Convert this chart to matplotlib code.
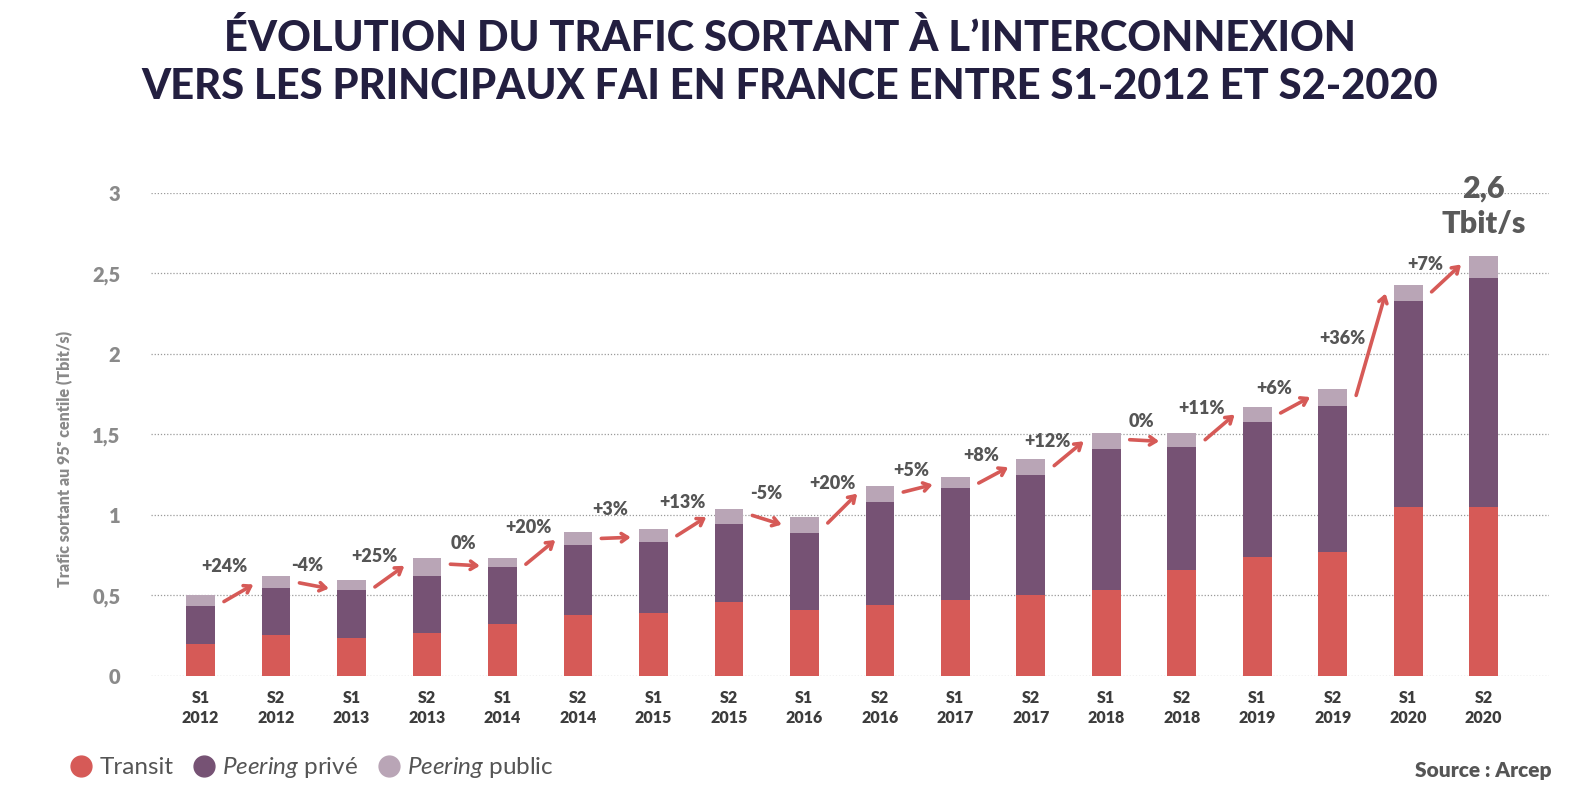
import numpy as np
from matplotlib import pyplot as plt
from matplotlib.lines import Line2D

plt.rcParams['font.family'] = ['Lato', 'DejaVu Sans']
plt.rcParams['mathtext.fontset'] = 'custom'
plt.rcParams['mathtext.rm'] = 'Lato'
plt.rcParams['mathtext.it'] = 'Lato:italic'

# Data (Tbit/s)
periods = ['S1\n2012', 'S2\n2012', 'S1\n2013', 'S2\n2013', 'S1\n2014', 'S2\n2014',
           'S1\n2015', 'S2\n2015', 'S1\n2016', 'S2\n2016', 'S1\n2017', 'S2\n2017',
           'S1\n2018', 'S2\n2018', 'S1\n2019', 'S2\n2019', 'S1\n2020', 'S2\n2020']
transit = [0.196, 0.256, 0.233, 0.266, 0.324, 0.376, 0.394, 0.459, 0.411,
           0.439, 0.470, 0.501, 0.534, 0.660, 0.741, 0.772, 1.052, 1.052]
peering_prive = [0.237, 0.291, 0.300, 0.352, 0.350, 0.439, 0.436, 0.485, 0.479,
                 0.642, 0.694, 0.747, 0.876, 0.762, 0.837, 0.903, 1.275, 1.417]
peering_public = [0.069, 0.071, 0.060, 0.116, 0.060, 0.079, 0.081, 0.093, 0.100,
                  0.101, 0.074, 0.098, 0.097, 0.085, 0.095, 0.107, 0.098, 0.136]
growth = ['+24%', '-4%', '+25%', '0%', '+20%', '+3%', '+13%', '-5%', '+20%',
          '+5%', '+8%', '+12%', '0%', '+11%', '+6%', '+36%', '+7%']
total_label = ['2,6', 'Tbit/s']

# label placement for each growth figure (offset from bar i / next bar top)
lbl_dx = [0.32, 0.41, 0.31, 0.48, 0.34, 0.43, 0.39, 0.49, 0.37,
          0.42, 0.34, 0.22, 0.46, 0.26, 0.22, 0.13, 0.23]
lbl_dy = [0.06, 0.09, 0.01, 0.09, 0.03, 0.12, 0.04, 0.14, 0.01,
          0.04, 0.02, -0.05, 0.07, -0.01, 0.0, -0.33, -0.05]

red = '#d65a57'
purple = '#765274'
mauve = '#b9a5b6'

transit = np.array(transit)
peering_prive = np.array(peering_prive)
peering_public = np.array(peering_public)
total = transit + peering_prive + peering_public
x = np.arange(len(periods))

fig = plt.figure(figsize=(15.8, 8.08), dpi=100)
ax = fig.add_axes([0.0956, 0.1634, 0.885, 0.598])

w = 0.38
ax.bar(x, transit, w, color=red, zorder=3)
ax.bar(x, peering_prive, w, bottom=transit, color=purple, zorder=3)
ax.bar(x, peering_public, w, bottom=transit + peering_prive, color=mauve, zorder=3)

ax.set_xlim(-0.656, 17.87)
ax.set_ylim(0, 3)
ax.set_yticks([0, 0.5, 1, 1.5, 2, 2.5, 3])
ax.set_yticklabels(['0', '0,5', '1', '1,5', '2', '2,5', '3'])
ax.set_xticks(x)
ax.set_xticklabels(periods)
ax.tick_params(axis='y', length=0, pad=22, labelsize=14.5, labelcolor='#8a8a8a')
ax.tick_params(axis='x', length=0, pad=10, labelsize=11.5, labelcolor='#3c3c3c')
for lab in ax.get_yticklabels() + ax.get_xticklabels():
    lab.set_fontweight('heavy')
for lab in ax.get_xticklabels():
    lab.set_linespacing(1.35)
for s in ax.spines.values():
    s.set_visible(False)
ax.grid(axis='y', linestyle=(0, (1, 1.5)), color='#9a9a9a', linewidth=0.9, zorder=0)

ax.set_ylabel('Trafic sortant au 95ᵉ centile (Tbit/s)', fontsize=11.5, fontweight='heavy',
              color='#8a8a8a')
ax.yaxis.set_label_coords(-0.056, 0.45)

# growth arrows and labels
for i in range(len(growth)):
    ax.annotate('', xy=(i + 0.70, total[i + 1] - 0.05), xytext=(i + 0.31, total[i] - 0.04),
                arrowprops=dict(arrowstyle='->,head_length=0.45,head_width=0.3',
                                color=red, lw=2.6, shrinkA=0, shrinkB=0), zorder=4)
    ax.text(i + lbl_dx[i], total[i + 1] + lbl_dy[i], growth[i], ha='center', va='center',
            fontsize=13, fontweight='heavy', color='#555555')

ax.text(x[-1], total[-1] + 0.42, total_label[0], ha='center', va='center',
        fontsize=22, fontweight='heavy', color='#5a5a5a')
ax.text(x[-1], total[-1] + 0.20, total_label[1], ha='center', va='center',
        fontsize=22, fontweight='heavy', color='#5a5a5a')

fig.text(0.5, 0.977, 'ÉVOLUTION DU TRAFIC SORTANT À L’INTERCONNEXION\n'
         'VERS LES PRINCIPAUX FAI EN FRANCE ENTRE S1-2012 ET S2-2020',
         ha='center', va='top', fontsize=30, fontweight='black', color='#231f40',
         linespacing=1.33)

handles = [Line2D([], [], marker='o', linestyle='none', markersize=15, color=c)
           for c in (red, purple, mauve)]
labels = ['Transit', r'$\mathit{Peering}$ privé', r'$\mathit{Peering}$ public']
fig.legend(handles, labels, loc='center left', bbox_to_anchor=(0.03, 0.05), ncol=3,
           frameon=False, fontsize=17.5, labelcolor='#555555', handletextpad=0.25,
           columnspacing=0.75, handlelength=1.0)

fig.text(0.982, 0.047, 'Source : Arcep', ha='right', va='center', fontsize=15,
         fontweight='heavy', color='#555555')

fig.savefig('out.png', dpi=100)
